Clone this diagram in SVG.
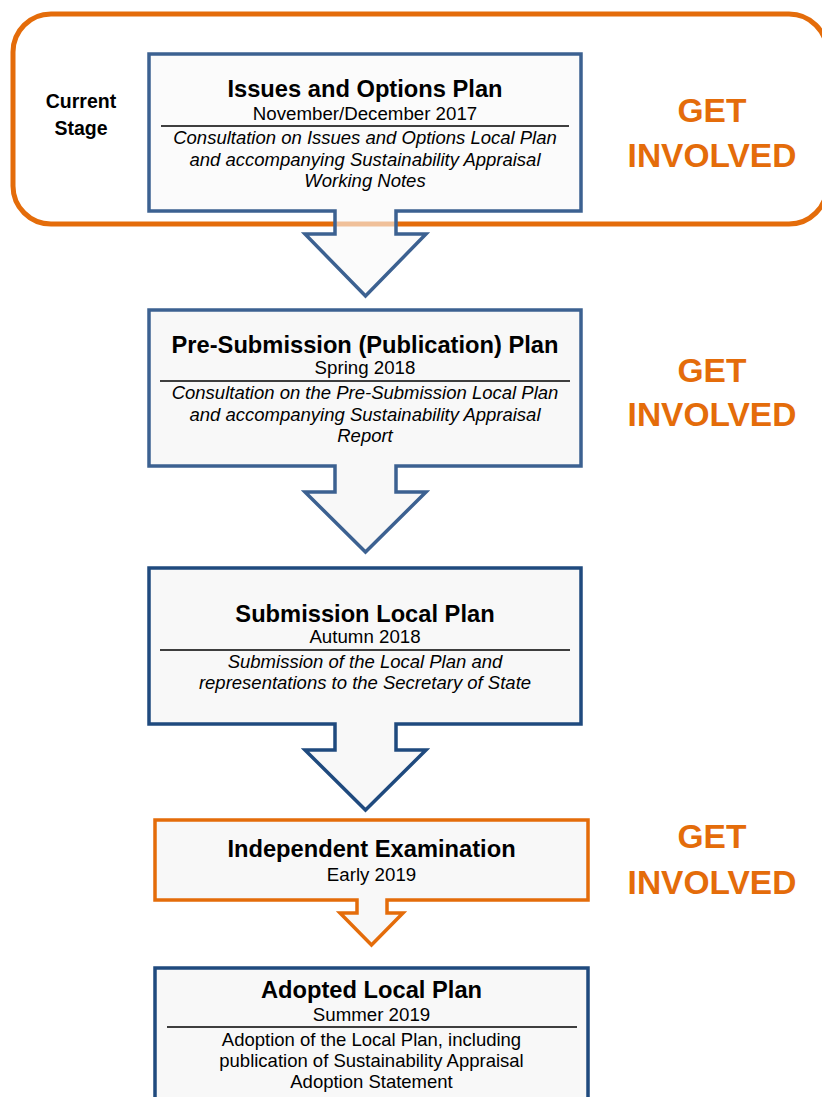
<svg xmlns="http://www.w3.org/2000/svg" width="822" height="1097" viewBox="0 0 822 1097">
<style>
text{font-family:"Liberation Sans",Arial,sans-serif;text-anchor:middle;fill:#000}
.t{font-size:23.7px;font-weight:bold}
.s{font-size:18.7px}
.i{font-size:18.5px;font-style:italic}
.b{font-size:18.5px}
.g{font-size:33.5px;font-weight:bold;fill:#e46c0a}
.cs{font-size:19.5px;font-weight:bold}
.box{fill:#f8f8f8;stroke-width:3.5;stroke-linejoin:miter}
.bl1{stroke:#3c6191}
.bl2{stroke:#1f4a7e}
.or{stroke:#e46c0a}
.div{stroke:#000;stroke-width:1.5}
</style>
<rect width="822" height="1097" fill="#fff"/>
<g id="current-stage-frame">
<rect x="13" y="14" width="814" height="210" rx="38" ry="38" fill="none" stroke="#e46c0a" stroke-width="5"/>
<text class="cs" x="81" y="108">Current</text>
<text class="cs" x="81" y="135">Stage</text>
</g>
<g id="get-involved-labels">
<text class="g" x="712" y="122">GET</text>
<text class="g" x="712" y="167">INVOLVED</text>
<text class="g" x="712" y="382">GET</text>
<text class="g" x="712" y="426">INVOLVED</text>
<text class="g" x="712" y="848">GET</text>
<text class="g" x="712" y="894">INVOLVED</text>
</g>
<g id="connectors">
<!-- arrows are drawn merged with their source box outlines below -->
</g>
<g id="node-issues-options">
<path class="box bl1" fill-opacity="0.6" d="M149,54 H581 V211 H396 V234 H426 L365.5,296 L305,234 H335 V211 H149 Z"/>
<text class="t" x="365" y="97">Issues and Options Plan</text>
<text class="s" x="365" y="120">November/December 2017</text>
<line class="div" x1="161" y1="126" x2="569" y2="126"/>
<text class="i" x="365" y="144">Consultation on Issues and Options Local Plan</text>
<text class="i" x="365" y="166">and accompanying Sustainability Appraisal</text>
<text class="i" x="365" y="187">Working Notes</text>
</g>
<g id="node-pre-submission">
<path class="box bl1" d="M149,310 H581 V466 H396 V492 H426 L365.5,552 L305,492 H335 V466 H149 Z"/>
<text class="t" x="365" y="353">Pre-Submission (Publication) Plan</text>
<text class="s" x="365" y="374">Spring 2018</text>
<line class="div" x1="160" y1="381" x2="570" y2="381"/>
<text class="i" x="365" y="399">Consultation on the Pre-Submission Local Plan</text>
<text class="i" x="365" y="421">and accompanying Sustainability Appraisal</text>
<text class="i" x="365" y="442">Report</text>
</g>
<g id="node-submission">
<path class="box bl2" d="M149,568 H581 V724 H396 V750 H426 L365.5,810 L305,750 H335 V724 H149 Z"/>
<text class="t" x="365" y="622">Submission Local Plan</text>
<text class="s" x="365" y="643">Autumn 2018</text>
<line class="div" x1="160" y1="650" x2="570" y2="650"/>
<text class="i" x="365" y="668">Submission of the Local Plan and</text>
<text class="i" x="365" y="689">representations to the Secretary of State</text>
</g>
<g id="node-examination">
<path class="box or" d="M155,820 H588 V900 H387 V913 H403 L371.5,945 L340,913 H357 V900 H155 Z"/>
<text class="t" x="371.5" y="857">Independent Examination</text>
<text class="s" x="371.5" y="881">Early 2019</text>
</g>
<g id="node-adopted">
<rect class="box bl2" x="155" y="968" width="433" height="150"/>
<text class="t" x="371.5" y="998">Adopted Local Plan</text>
<text class="s" x="371.5" y="1021">Summer 2019</text>
<line class="div" x1="167" y1="1027" x2="577" y2="1027"/>
<text class="b" x="371.5" y="1046">Adoption of the Local Plan, including</text>
<text class="b" x="371.5" y="1067">publication of Sustainability Appraisal</text>
<text class="b" x="371.5" y="1088">Adoption Statement</text>
</g>
</svg>
